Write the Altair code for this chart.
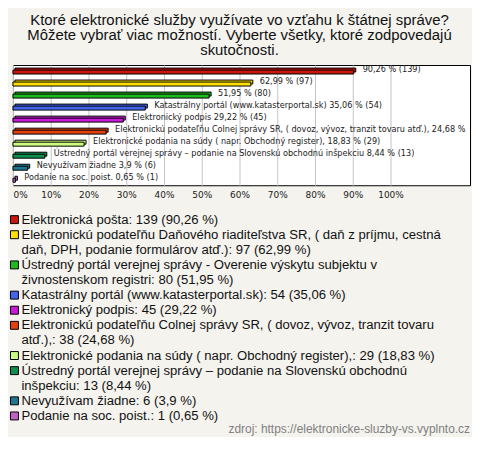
import textwrap
import altair as alt
import pandas as pd

title_lines = [
    "Ktoré elektronické služby využívate vo vzťahu k štátnej správe?",
    "Môžete vybrať viac možností. Vyberte všetky, ktoré zodpovedajú",
    "skutočnosti.",
]
categories = [
    "Elektronická pošta",
    "Elektronickú podateľňu Daňového riaditeľstva SR, ( daň z príjmu, cestná daň, DPH, podanie formulárov atď.)",
    "Ústredný portál verejnej správy - Overenie výskytu subjektu v živnostenskom registri",
    "Katastrálny portál (www.katasterportal.sk)",
    "Elektronický podpis",
    "Elektronickú podateľňu Colnej správy SR, ( dovoz, vývoz, tranzit tovaru atď.),",
    "Elektronické podania na súdy ( napr. Obchodný register),",
    "Ústredný portál verejnej správy – podanie na Slovenskú obchodnú inšpekciu",
    "Nevyužívam žiadne",
    "Podanie na soc. poist.",
]
counts = [139, 97, 80, 54, 45, 38, 29, 13, 6, 1]
percents = [90.26, 62.99, 51.95, 35.06, 29.22, 24.68, 18.83, 8.44, 3.9, 0.65]
colors = ["#C8170C", "#FFE000", "#1DBB1D", "#4466EE", "#C81AD8",
          "#E2400C", "#CCFF80", "#0E8F4E", "#207890", "#C060C8"]
name_on_bar = [False, False, False, True, True, True, True, True, True, True]
x_ticks = [0, 10, 20, 30, 40, 50, 60, 70, 80, 90, 100]
source_text = "zdroj: https://elektronicke-sluzby-vs.vyplnto.cz"


def fmt(v):
    return ("%g" % v).replace(".", ",")


rows = []
line = 0
for i, (name, n, p, show) in enumerate(zip(categories, counts, percents, name_on_bar)):
    pct = fmt(p)
    bar_label = f"{name} {pct} % ({n})" if show else f"{pct} % ({n})"
    legend = f"{name}: {n} ({pct} %)"
    lines = textwrap.wrap(legend, width=71, break_on_hyphens=False)
    rows.append(dict(name=name, pct=p, bar_label=bar_label,
                     legend_text="\n".join(lines), line=line))
    line += len(lines)
total_lines = line
df = pd.DataFrame(rows)

FONT = "Liberation Sans"
SMALL_FONT = "DejaVu Sans"
LINE_H = 15.2
PLOT_W = 460
X_MAX = 121.05
LABEL_DX = 9
CUT_FROM = 20  # labels of bars longer than this are cut at the plot frame

color_enc = alt.Color("name:N", scale=alt.Scale(domain=categories, range=colors), legend=None)
x_enc = alt.X(
    "pct:Q",
    scale=alt.Scale(domain=[0, X_MAX], nice=False, zero=True),
    axis=alt.Axis(values=x_ticks, labelExpr="datum.value + '%'", grid=True,
                  gridColor="#C4C4C4", gridOpacity=1, domain=False, ticks=False,
                  tickSize=0, labelPadding=5, labelFontSize=9, labelFlush=True,
                  labelColor="#222222", labelFont=SMALL_FONT, title=None),
)
y_enc = alt.Y("name:N", sort=categories, axis=None,
              scale=alt.Scale(paddingInner=0, paddingOuter=0))

# room left before the plot frame for the label of the shortest bar that is cut there
cut_pcts = [p for p in percents if p >= CUT_FROM]
label_room = PLOT_W - (min(cut_pcts) / X_MAX * PLOT_W + LABEL_DX) - 1

base = alt.Chart(df)
back = base.mark_bar(size=4, yOffset=-1, xOffset=2, x2Offset=2, stroke="black",
                     strokeWidth=1, opacity=1).encode(x=x_enc, y=y_enc, color=color_enc)
front = base.mark_bar(size=4, yOffset=1, stroke="black",
                      strokeWidth=1, opacity=1).encode(x=x_enc, y=y_enc, color=color_enc)
label_style = dict(align="left", baseline="middle", dx=LABEL_DX, dy=-1, fontSize=8.2,
                   font=SMALL_FONT, color="#222222", clip=True)
labels_long = base.transform_filter(alt.datum.pct >= CUT_FROM).mark_text(
    limit=label_room, ellipsis=" ", **label_style).encode(
    x=x_enc, y=y_enc, text="bar_label:N")
labels_short = base.transform_filter(alt.datum.pct < CUT_FROM).mark_text(
    **label_style).encode(x=x_enc, y=y_enc, text="bar_label:N")

top = alt.layer(back, front, labels_long, labels_short).properties(
    width=PLOT_W, height=121,
    view=alt.ViewBackground(fill="white", stroke="black", strokeWidth=1),
)

legend_y = alt.Scale(domain=[-0.5, total_lines - 0.5], reverse=True, nice=False, zero=False)
squares = base.mark_square(size=64, filled=True, stroke="black", strokeWidth=1,
                           opacity=1).encode(
    x=alt.value(1.5), y=alt.Y("line:Q", scale=legend_y, axis=None), color=color_enc)
texts = base.mark_text(align="left", baseline="middle", fontSize=13.2, lineHeight=LINE_H,
                       lineBreak="\n", font=FONT, color="#111111").encode(
    x=alt.value(8.5), y=alt.Y("line:Q", scale=legend_y, axis=None),
    text="legend_text:N")

legend_chart = alt.layer(squares, texts).properties(
    width=PLOT_W, height=total_lines * LINE_H,
    title=alt.TitleParams(source_text, orient="bottom", anchor="end", fontSize=12,
                          font=FONT, fontWeight="normal", color="#808080", offset=1),
)

chart = alt.vconcat(top, legend_chart, spacing=27, bounds="flush").properties(
    title=alt.TitleParams(title_lines, fontSize=15, font=FONT, fontWeight="normal",
                          color="#111111", lineHeight=15, anchor="middle",
                          baseline="top", offset=7),
    background="#F4F3EE",
    padding={"left": 0, "top": 3, "right": 1, "bottom": 0},
).configure_view(stroke=None)

chart.save("out.html", embed_options={"renderer": "svg", "actions": False})
